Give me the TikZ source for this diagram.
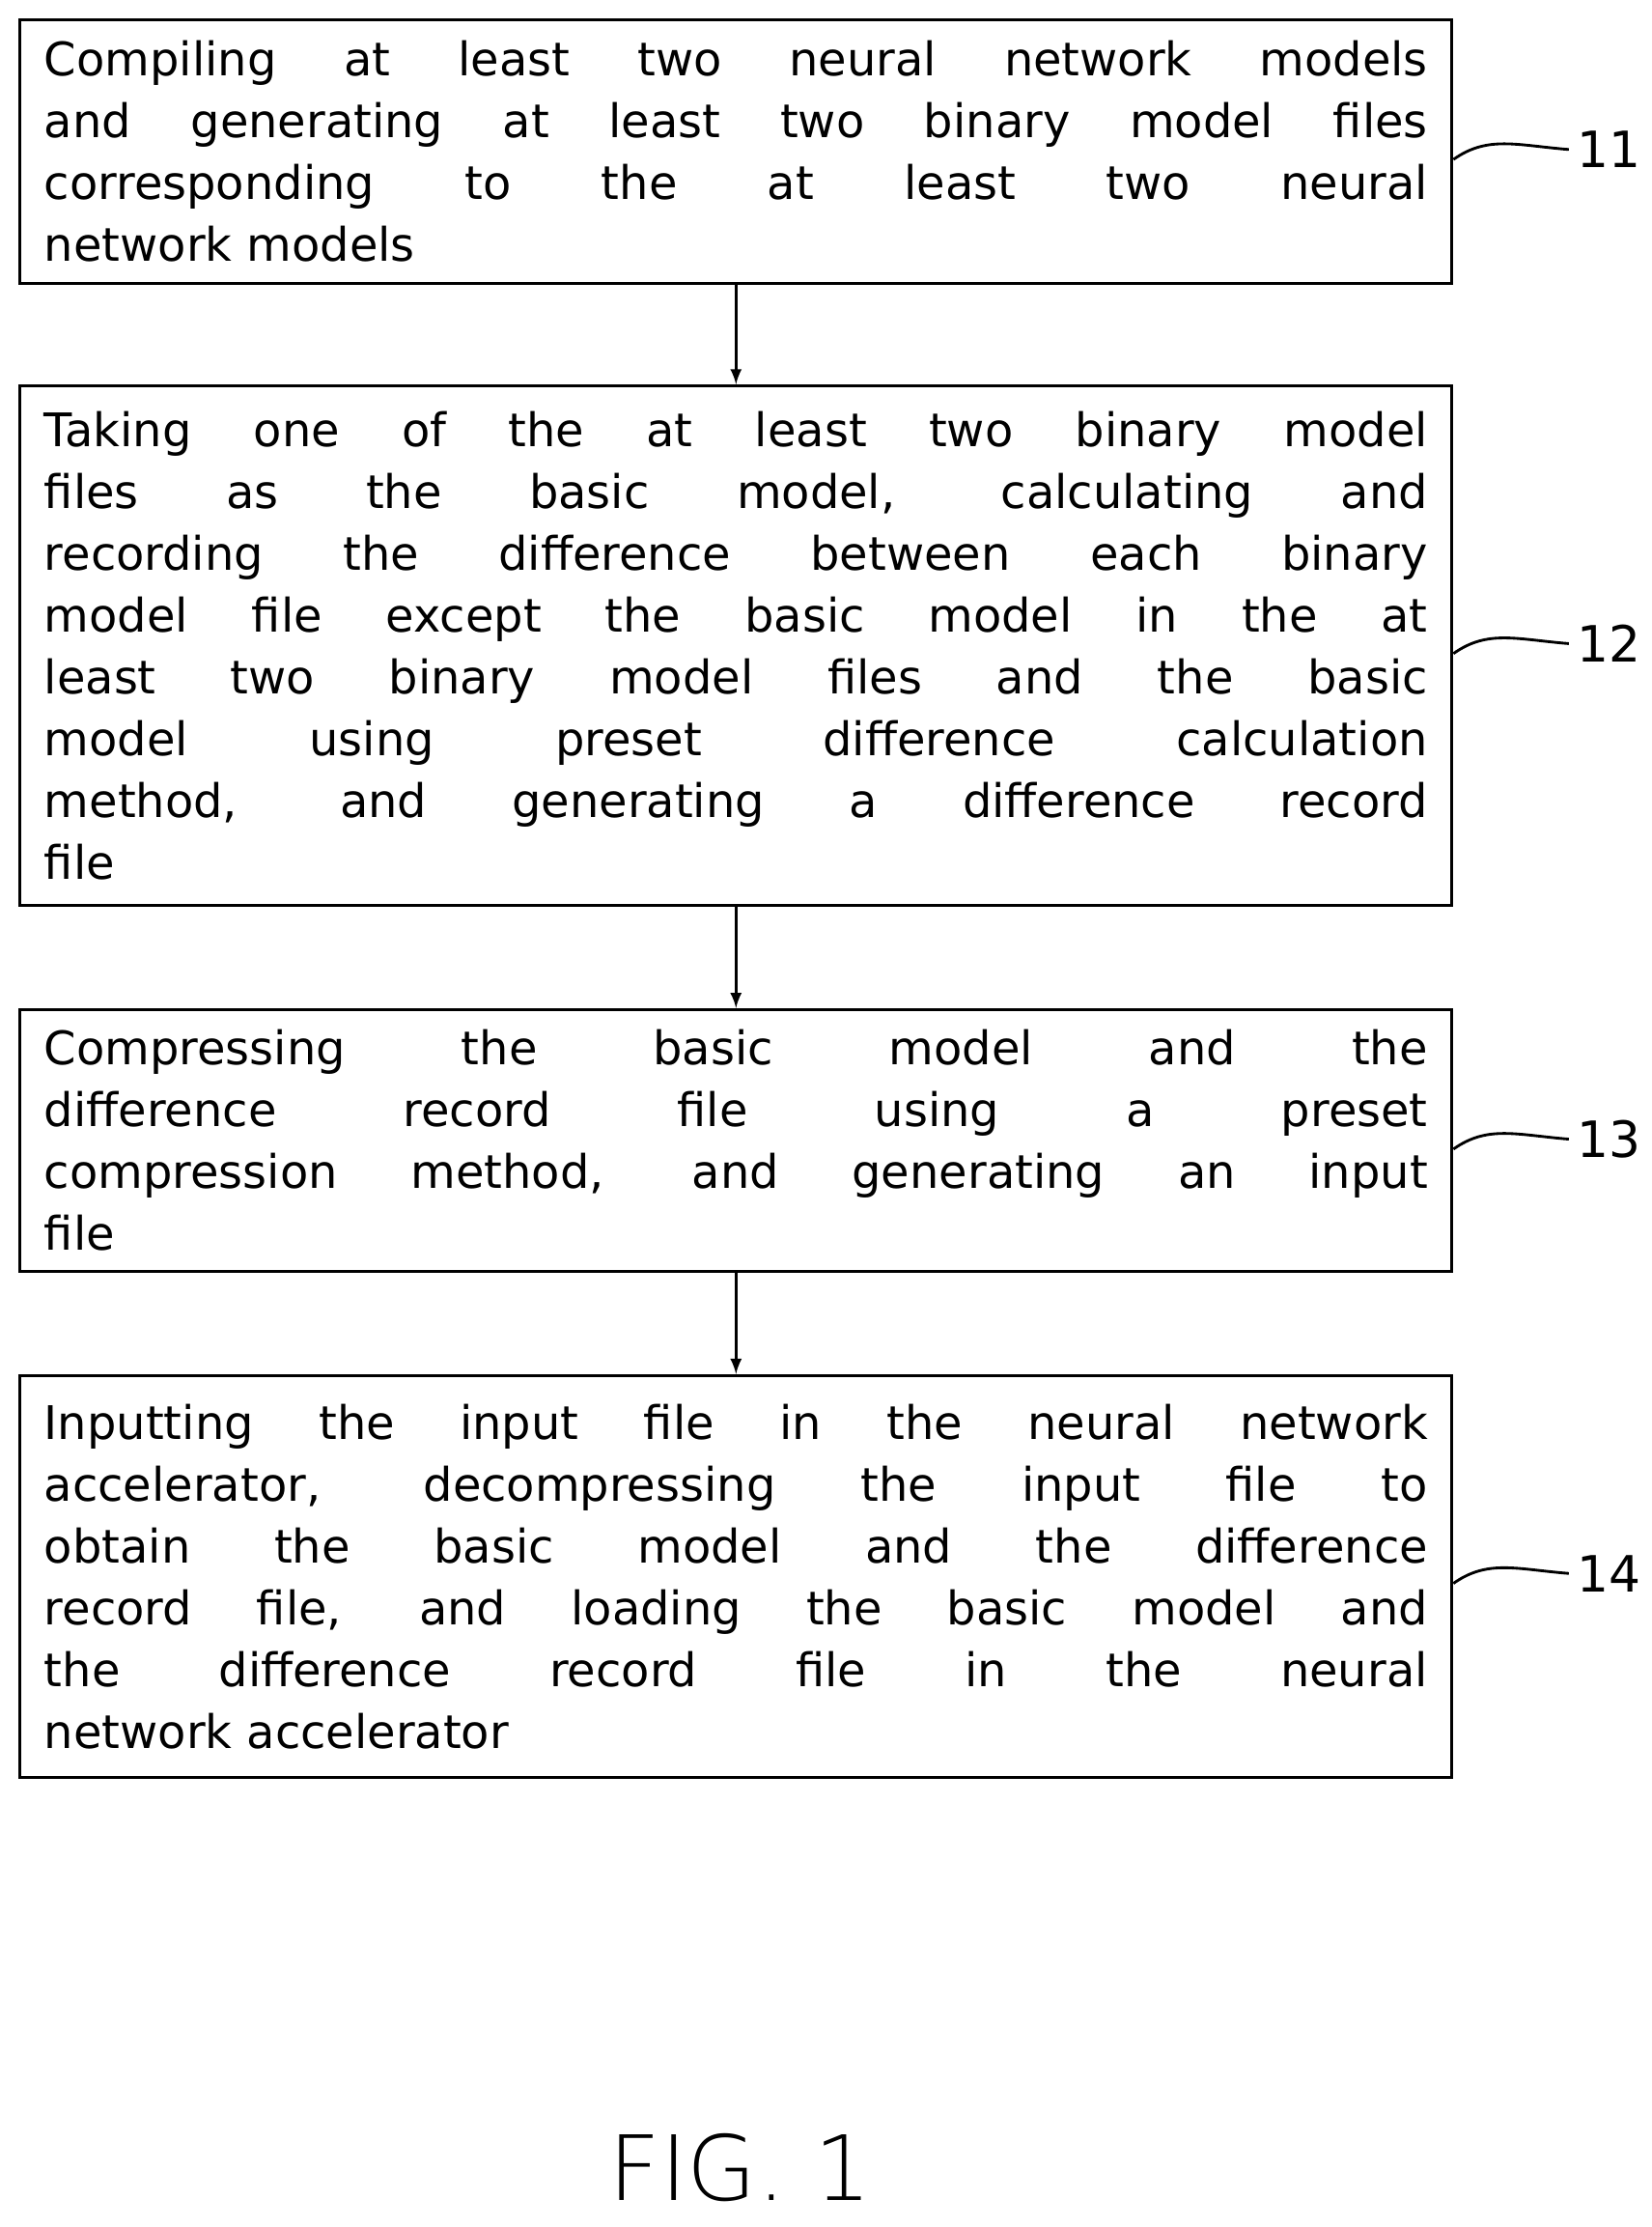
\documentclass[tikz,border=0pt]{standalone}
\usepackage{fontspec}
\setmainfont{DejaVu Sans}
\newfontfamily\figfont{DejaVu Sans ExtraLight}
\tikzset{
  stepbox/.style={draw, line width=1.2pt, minimum width=20.12cm, text width=19.44cm,
    align=justify, inner sep=0pt, font=\fontsize{18.5}{24.7}\selectfont},
  flow/.style={line width=1.1pt, -latex},
  lead/.style={line width=1.1pt},
  refnum/.style={font=\fontsize{20}{24}\selectfont, anchor=west}
}
\begin{document}
\begin{tikzpicture}[x=0.02cm, y=0.02cm]
  \useasboundingbox (0,0) rectangle (1160,-1564);

  \node[stepbox, minimum height=3.7cm] (s1) at (517,-106.5)
    {Compiling at least two neural network models\linebreak
     and generating at least two binary model files\linebreak
     corresponding to the at least two neural\linebreak
     network models};
  \node[stepbox, minimum height=7.3cm] (s2) at (517,-453.5)
    {Taking one of the at least two binary model\linebreak
     files as the basic model, calculating and\linebreak
     recording the difference between each binary\linebreak
     model file except the basic model in the at\linebreak
     least two binary model files and the basic\linebreak
     model using preset difference calculation\linebreak
     method, and generating a difference record\linebreak
     file};
  \node[stepbox, minimum height=3.68cm] (s3) at (517,-801)
    {Compressing the basic model and the\linebreak
     difference record file using a preset\linebreak
     compression method, and generating an input\linebreak
     file};
  \node[stepbox, minimum height=5.64cm] (s4) at (517,-1107)
    {Inputting the input file in the neural network\linebreak
     accelerator, decompressing the input file to\linebreak
     obtain the basic model and the difference\linebreak
     record file, and loading the basic model and\linebreak
     the difference record file in the neural\linebreak
     network accelerator};

  \draw[flow] (s1) -- (s2);
  \draw[flow] (s2) -- (s3);
  \draw[flow] (s3) -- (s4);

  % reference numerals
  \node[refnum] (n11) at (1102,-105) {11};
  \node[refnum] (n12) at (1102,-452) {12};
  \node[refnum] (n13) at (1102,-800) {13};
  \node[refnum] (n14) at (1102,-1105) {14};
  \draw[lead] (s1.east |- 0,-112) .. controls (1045,-95) and (1065,-102) .. (n11.west);
  \draw[lead] (s2.east |- 0,-459) .. controls (1045,-442) and (1065,-449) .. (n12.west);
  \draw[lead] (s3.east |- 0,-807) .. controls (1045,-790) and (1065,-797) .. (n13.west);
  \draw[lead] (s4.east |- 0,-1112) .. controls (1045,-1095) and (1065,-1102) .. (n14.west);

  \node[font=\figfont\fontsize{36}{40}\selectfont] (fig) at (520,-1522) {FIG. 1};
\end{tikzpicture}
\end{document}
